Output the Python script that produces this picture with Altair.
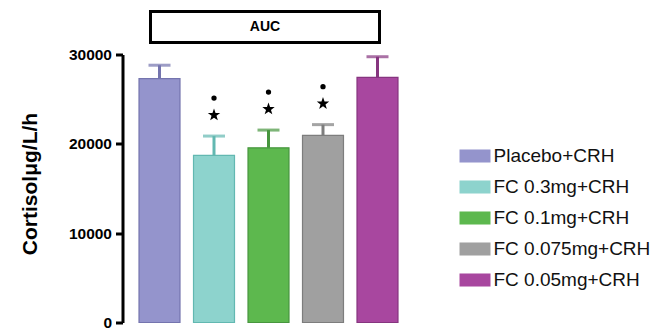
import altair as alt
import pandas as pd

# Cortisol AUC after CRH challenge, by treatment group
groups = ["Placebo+CRH", "FC 0.3mg+CRH", "FC 0.1mg+CRH", "FC 0.075mg+CRH", "FC 0.05mg+CRH"]
auc_mean = [27300, 18700, 19550, 20950, 27450]
auc_sem = [1500, 2170, 1990, 1200, 2300]
significant = [False, True, True, True, False]

fill_colors = ["#9494cc", "#8dd3cd", "#5db84e", "#a0a0a0", "#a8479f"]
edge_colors = ["#7474ae", "#62b8b1", "#47963e", "#7d7d7d", "#86357f"]

df = pd.DataFrame({
    "group": groups,
    "auc": auc_mean,
    "top": [m + s for m, s in zip(auc_mean, auc_sem)],
    "sig": significant,
})

x_enc = alt.X("group:N", sort=groups, axis=None,
              scale=alt.Scale(paddingInner=0.248, paddingOuter=0.248))
y_scale = alt.Scale(domain=[0, 30000], nice=False)

fill = alt.Color("group:N", sort=groups,
                 scale=alt.Scale(domain=groups, range=fill_colors),
                 legend=alt.Legend(
                     title=None, orient="none", legendX=334, legendY=86,
                     symbolType="M-1,-0.42H1V0.42H-1Z", symbolSize=961,
                     symbolStrokeWidth=0, symbolOpacity=1,
                     labelFont="Liberation Sans", labelFontSize=19,
                     labelColor="#111111", labelOffset=3, labelLimit=300,
                     rowPadding=5, padding=0))
edge = alt.Color("group:N", sort=groups,
                 scale=alt.Scale(domain=groups, range=edge_colors), legend=None)

bars = alt.Chart(df).mark_bar(strokeWidth=1).encode(
    x=x_enc,
    y=alt.Y("auc:Q", scale=y_scale, axis=alt.Axis(
        values=[0, 10000, 20000, 30000], title="Cortisolμg/L/h",
        titleFont="Liberation Sans", titleFontSize=21, titleFontWeight="bold",
        titleColor="black", titleAngle=-90, titleX=-92, titleY=129,
        titleBaseline="middle", titleAlign="center",
        labelFont="Liberation Sans", labelFontSize=15.5, labelFontWeight="bold",
        labelColor="black", labelPadding=4, grid=False,
        domainColor="black", domainWidth=3, tickColor="black",
        tickWidth=3, tickSize=7, offset=3, format="d")),
    color=fill,
)

bar_edges = alt.Chart(df).mark_bar(fillOpacity=0, strokeWidth=1.2).encode(
    x=x_enc, y=alt.Y("auc:Q", scale=y_scale), stroke=edge,
)

err_stem = alt.Chart(df).mark_rule(strokeWidth=3).encode(
    x=x_enc, y=alt.Y("auc:Q", scale=y_scale), y2="top:Q", color=edge,
)
err_cap = alt.Chart(df).mark_tick(thickness=3, size=22).encode(
    x=x_enc, y=alt.Y("top:Q", scale=y_scale), color=edge,
)

star_path = ("M0,-1L0.235,-0.324L0.951,-0.309L0.38,0.124L0.588,0.809"
             "L0,0.4L-0.588,0.809L-0.38,0.124L-0.951,-0.309L-0.235,-0.324Z")
stars = alt.Chart(df).transform_filter("datum.sig").mark_point(
    shape=star_path, size=170, filled=True, color="black", opacity=1, yOffset=-21,
).encode(x=x_enc, y=alt.Y("top:Q", scale=y_scale))
dots = alt.Chart(df).transform_filter("datum.sig").mark_point(
    shape="circle", size=28, filled=True, color="black", opacity=1, yOffset=-38,
).encode(x=x_enc, y=alt.Y("top:Q", scale=y_scale))

# Header frame with the panel label
frame = alt.Chart(pd.DataFrame({"label": ["AUC"]})).mark_rect(
    fill="white", stroke="black", strokeWidth=3,
).encode(x=alt.value(25), x2=alt.value(254), y=alt.value(-43), y2=alt.value(-12))
frame_text = alt.Chart(pd.DataFrame({"label": ["AUC"]})).mark_text(
    font="Liberation Sans", fontSize=14, fontWeight="bold", color="black",
    baseline="middle", align="center",
).encode(text="label:N", x=alt.value(139.5), y=alt.value(-27.5))

chart = alt.layer(
    bars, bar_edges, err_stem, err_cap, stars, dots, frame, frame_text
).resolve_scale(color="independent", stroke="independent").properties(
    width=286, height=268,
    autosize=alt.AutoSizeParams(type="none"),
    padding={"left": 125.5, "top": 54.5, "right": 242.5, "bottom": 10.5},
    background="white",
).configure_view(stroke=None)

chart.save("out.html", embed_options={"renderer": "svg", "actions": False})
